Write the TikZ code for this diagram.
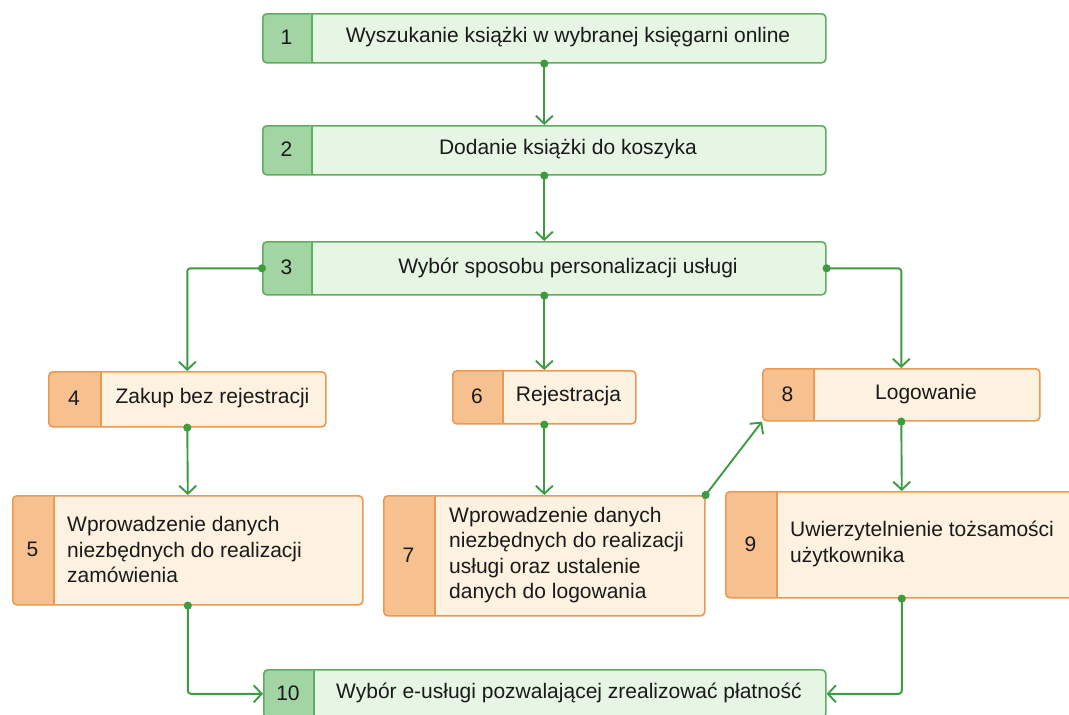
\documentclass[tikz,border=0pt]{standalone}
\usepackage{fontspec}
\setmainfont{Liberation Sans}
\usetikzlibrary{arrows.meta}
\definecolor{gborder}{HTML}{5DAF5F}
\definecolor{glight}{HTML}{E6F5E4}
\definecolor{gdark}{HTML}{A3D4A4}
\definecolor{oborder}{HTML}{EA9A55}
\definecolor{olight}{HTML}{FDF1E0}
\definecolor{odark}{HTML}{F7C18F}
\definecolor{lineg}{HTML}{3E9B41}
\definecolor{txt}{HTML}{1A1A1A}
\tikzset{
  box/.style 2 args={draw=#1border, fill=#1light, rounded corners=4pt, line width=1.6pt,
    inner sep=0pt, anchor=north west,
    path picture={
      \fill[#1dark] (path picture bounding box.north west) rectangle ([xshift=#2]path picture bounding box.south west);
      \draw[#1border, line width=1.4pt] ([xshift=#2]path picture bounding box.north west) -- ([xshift=#2]path picture bounding box.south west);
    }},
  lbl/.style={inner sep=0pt, text=txt, font=\fontsize{21}{25.5}\selectfont},
  num/.style={inner sep=0pt, text=txt, font=\fontsize{21}{25.5}\selectfont},
  conn/.style={draw=lineg, line width=1.9pt, rounded corners=3pt, shorten <=-4pt,
    {Circle[length=8pt]}-{Straight Barb[length=8pt,width=17pt,line width=1.9pt]}},
}
\begin{document}
\begin{tikzpicture}[x=1pt,y=-1pt]
\useasboundingbox (0,0) rectangle (1069,715);
\clip (0,0) rectangle (1069,715);
\fill[white] (0,0) rectangle (1069,715);

% green boxes
\node[box={g}{49pt}, minimum width=563pt, minimum height=49pt] (b1) at (262,13) {};
\node[box={g}{49pt}, minimum width=563pt, minimum height=49pt] (b2) at (262,125) {};
\node[box={g}{49pt}, minimum width=563pt, minimum height=53pt] (b3) at (262,241) {};
\node[box={g}{50pt}, minimum width=562pt, minimum height=48pt] (b10) at (263,669) {};

% orange boxes
\node[box={o}{52pt}, minimum width=277pt, minimum height=55pt] (b4) at (48,371) {};
\node[box={o}{50pt}, minimum width=183pt, minimum height=53pt] (b6) at (452,370) {};
\node[box={o}{51pt}, minimum width=277pt, minimum height=52pt] (b8) at (762,368) {};
\node[box={o}{41pt}, minimum width=350pt, minimum height=109pt] (b5) at (12,495) {};
\node[box={o}{51pt}, minimum width=321pt, minimum height=120pt] (b7) at (383,495) {};
\node[box={o}{51pt}, minimum width=352pt, minimum height=106pt] (b9) at (725,491) {};

% numbers
\node[num] (n1) at (286.5,37.5) {1};
\node[num] (n2) at (286.5,149.5) {2};
\node[num] (n3) at (286.5,267.5) {3};
\node[num] (n4) at (74,398.5) {4};
\node[num] (n5) at (32.5,549.5) {5};
\node[num] (n6) at (477,396.5) {6};
\node[num] (n7) at (408.5,555) {7};
\node[num] (n8) at (787.5,394) {8};
\node[num] (n9) at (750.5,544) {9};
\node[num] (n10) at (288,693) {10};

% labels
\node[lbl] (t1) at (568,37.5) {Wyszukanie książki w wybranej księgarni online};
\node[lbl] (t2) at (568,149.5) {Dodanie książki do koszyka};
\node[lbl] (t3) at (568,267.5) {Wybór sposobu personalizacji usługi};
\node[lbl] (t4) at (212.5,398.5) {Zakup bez rejestracji};
\node[lbl] (t6) at (568.5,396.5) {Rejestracja};
\node[lbl] (t8) at (926,394) {Logowanie};
\node[lbl] (t10) at (569,693) {Wybór e-usługi pozwalającej zrealizować płatność};
\node[lbl, anchor=west, align=left] (t5) at (67,549.5) {Wprowadzenie danych\\niezbędnych do realizacji\\zamówienia};
\node[lbl, anchor=west, align=left] (t7) at (449,555) {Wprowadzenie danych\\niezbędnych do realizacji\\usługi oraz ustalenie\\danych do logowania};
\node[lbl, anchor=west, align=left] (t9) at (790,544) {Uwierzytelnienie tożsamości\\użytkownika};

% connectors
\draw[conn] (b1.south) -- (b2.north);
\draw[conn] (b2.south) -- (b3.north);
\draw[conn] (b3.west) -| (b4.north);
\draw[conn] (b3.east) -| (b8.north);
\draw[conn] (b3.south) -- (b6.north);
\draw[conn] (b4.south) -- (b5.north);
\draw[conn] (b6.south) -- (b7.north);
\draw[conn] (b7.north east) -- (b8.south west);
\draw[conn] (b8.south) -- (b9.north);
\draw[conn] (b5.south) |- (b10.west);
\draw[conn] (b9.south) |- (b10.east);
\end{tikzpicture}
\end{document}
